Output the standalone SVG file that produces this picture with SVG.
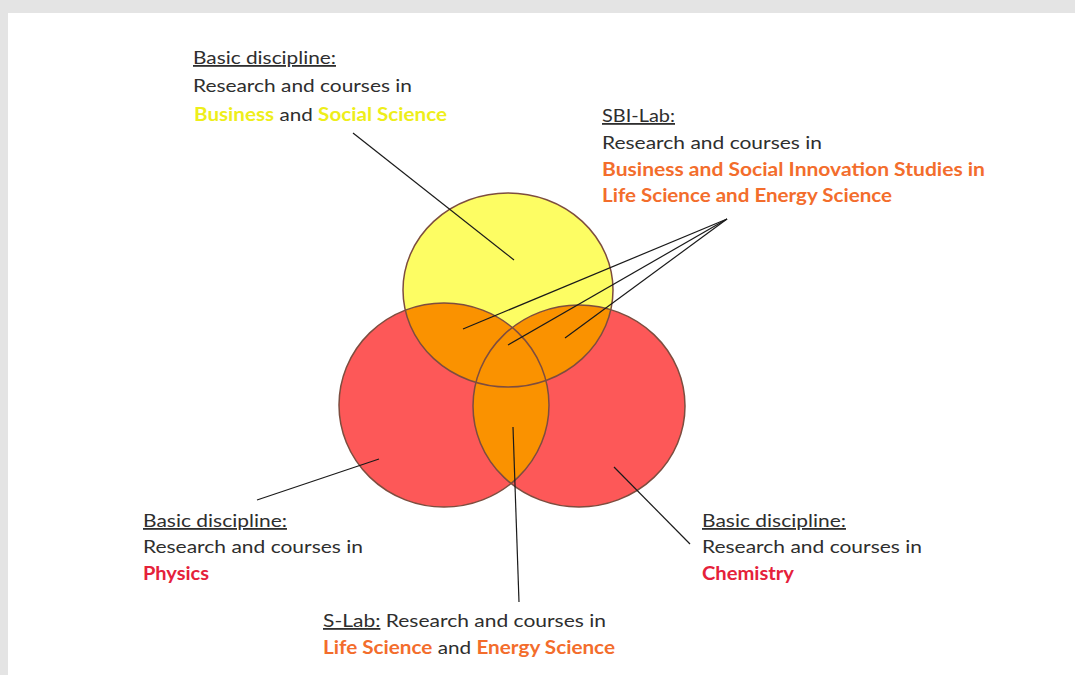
<svg xmlns="http://www.w3.org/2000/svg" width="1075" height="675" viewBox="0 0 1075 675">
<style>
.t{font-family:Lato,"Open Sans","Liberation Sans",sans-serif;font-size:18px;fill:#2e2e2e}
.u{text-decoration:underline}
.y{fill:#eeee1a;font-weight:bold}
.o{fill:#f36d2c;font-weight:bold}
.r{fill:#e5213a;font-weight:bold}
.c{stroke:#7d4d3f;stroke-width:1.5;fill:none}
.ln{stroke:#1a1a1a;stroke-width:1.2;fill:none}
</style>
<defs>
<clipPath id="cY"><ellipse cx="508" cy="290" rx="105" ry="97"/></clipPath>
<clipPath id="cR"><ellipse cx="579" cy="406" rx="106" ry="101"/></clipPath>
</defs>
<rect x="0" y="0" width="1075" height="675" fill="#e4e4e4"/>
<rect x="8" y="13" width="1067" height="662" fill="#ffffff"/>
<g id="venn">
<ellipse id="circle-physics" cx="444" cy="405" rx="105" ry="102" fill="#fd5858"/>
<ellipse id="circle-chemistry" cx="579" cy="406" rx="106" ry="101" fill="#fd5858"/>
<ellipse id="circle-business" cx="508" cy="290" rx="105" ry="97" fill="#fdfd63"/>
<g id="overlaps" fill="#fa9200">
<ellipse cx="444" cy="405" rx="105" ry="102" clip-path="url(#cY)"/>
<ellipse cx="579" cy="406" rx="106" ry="101" clip-path="url(#cY)"/>
<ellipse cx="444" cy="405" rx="105" ry="102" clip-path="url(#cR)"/>
</g>
<ellipse class="c" cx="444" cy="405" rx="105" ry="102"/>
<ellipse class="c" cx="579" cy="406" rx="106" ry="101"/>
<ellipse class="c" cx="508" cy="290" rx="105" ry="97"/>
</g>
<g id="connectors">
<line class="ln" x1="353" y1="133" x2="514" y2="260"/>
<line class="ln" x1="727" y1="219" x2="463" y2="329"/>
<line class="ln" x1="727" y1="219" x2="508" y2="345"/>
<line class="ln" x1="727" y1="219" x2="565" y2="338"/>
<line class="ln" x1="257" y1="500" x2="379" y2="459"/>
<line class="ln" x1="519" y1="602" x2="513" y2="427"/>
<line class="ln" x1="614" y1="467" x2="690" y2="544"/>
</g>
<g id="label-business">
<text class="t u" x="193" y="64" textLength="143" lengthAdjust="spacingAndGlyphs">Basic discipline:</text>
<text class="t" x="193" y="92" textLength="219" lengthAdjust="spacingAndGlyphs">Research and courses in</text>
<text class="t" x="194" y="121" textLength="253" lengthAdjust="spacingAndGlyphs"><tspan class="y">Business</tspan> and <tspan class="y">Social Science</tspan></text>
</g>
<g id="label-sbi">
<text class="t u" x="602" y="122" textLength="73" lengthAdjust="spacingAndGlyphs">SBI-Lab:</text>
<text class="t" x="602" y="149" textLength="220" lengthAdjust="spacingAndGlyphs">Research and courses in</text>
<text class="t o" x="602" y="176" textLength="383" lengthAdjust="spacingAndGlyphs">Business and Social Innovation Studies in</text>
<text class="t o" x="602" y="202" textLength="290" lengthAdjust="spacingAndGlyphs">Life Science and Energy Science</text>
</g>
<g id="label-physics">
<text class="t u" x="143" y="527" textLength="144" lengthAdjust="spacingAndGlyphs">Basic discipline:</text>
<text class="t" x="143" y="553" textLength="220" lengthAdjust="spacingAndGlyphs">Research and courses in</text>
<text class="t r" x="143" y="580" textLength="66" lengthAdjust="spacingAndGlyphs">Physics</text>
</g>
<g id="label-chemistry">
<text class="t u" x="702" y="527" textLength="144" lengthAdjust="spacingAndGlyphs">Basic discipline:</text>
<text class="t" x="702" y="553" textLength="220" lengthAdjust="spacingAndGlyphs">Research and courses in</text>
<text class="t r" x="702" y="580" textLength="92" lengthAdjust="spacingAndGlyphs">Chemistry</text>
</g>
<g id="label-slab">
<text class="t" x="323" y="627" textLength="283" lengthAdjust="spacingAndGlyphs"><tspan class="u">S-Lab:</tspan> Research and courses in</text>
<text class="t" x="323" y="654" textLength="292" lengthAdjust="spacingAndGlyphs"><tspan class="o">Life Science</tspan> and <tspan class="o">Energy Science</tspan></text>
</g>
</svg>
